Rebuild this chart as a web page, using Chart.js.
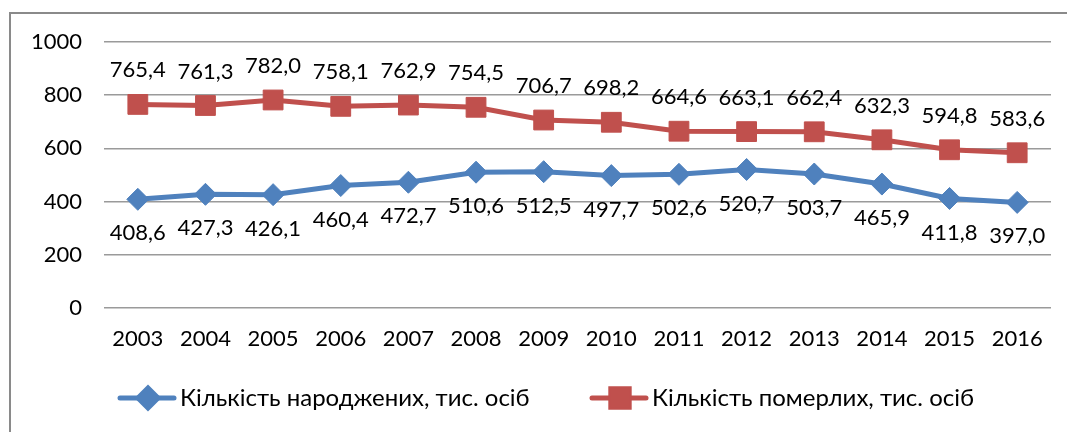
<!DOCTYPE html>
<html>
<head>
<meta charset="utf-8">
<script src="https://cdn.jsdelivr.net/npm/chart.js@4.4.0/dist/chart.umd.min.js"></script>
<style>
  html, body { margin: 0; padding: 0; background: #fff; }
  #popChart { display: block; }
</style>
</head>
<body>
<canvas id="popChart" width="1067" height="432"></canvas>
<script>
// years and values
var years = ['2003','2004','2005','2006','2007','2008','2009','2010','2011','2012','2013','2014','2015','2016'];
var births = [408.6, 427.3, 426.1, 460.4, 472.7, 510.6, 512.5, 497.7, 502.6, 520.7, 503.7, 465.9, 411.8, 397.0];
var deaths = [765.4, 761.3, 782.0, 758.1, 762.9, 754.5, 706.7, 698.2, 664.6, 663.1, 662.4, 632.3, 594.8, 583.6];
var yTicks = [0, 200, 400, 600, 800, 1000];
var birthsLabel = 'Кількість народжених, тис. осіб';
var deathsLabel = 'Кількість померлих, тис. осіб';

var FONT = 'Lato, "DejaVu Sans", sans-serif';
var BLUE = '#4F81BD';
var RED = '#C0504D';

function fmt(v) {
    return v.toFixed(1).replace('.', ',');
}

// value labels: red above the point, blue below
var valueLabels = {
    id: 'valueLabels',
    afterDatasetsDraw: function(chart) {
        var ctx = chart.ctx;
        ctx.save();
        ctx.font = '22px ' + FONT;
        ctx.fillStyle = '#000';
        ctx.textAlign = 'center';
        ctx.textBaseline = 'middle';
        chart.data.datasets.forEach(function(ds, i) {
            var meta = chart.getDatasetMeta(i);
            meta.data.forEach(function(pt, j) {
                var dy = i === 0 ? 34 : -34;
                ctx.fillText(fmt(ds.data[j]), pt.x, pt.y + dy);
            });
        });
        ctx.restore();
    }
};

// outer frame + legend with line and marker
var frameLegend = {
    id: 'frameLegend',
    afterDraw: function(chart) {
        var ctx = chart.ctx;
        ctx.save();
        ctx.strokeStyle = '#8a8a8a';
        ctx.lineWidth = 2;
        ctx.strokeRect(10, 13, 1100, 500);

        var items = [
            { x: 120, color: BLUE, shape: 'rectRot', r: 10, text: birthsLabel },
            { x: 592, color: RED, shape: 'rect', r: 13, text: deathsLabel }
        ];
        var y = 398;
        items.forEach(function(it) {
            ctx.strokeStyle = it.color;
            ctx.lineWidth = 5;
            ctx.lineCap = 'round';
            ctx.beginPath();
            ctx.moveTo(it.x, y);
            ctx.lineTo(it.x + 54, y);
            ctx.stroke();
            Chart.helpers.drawPoint(ctx, {
                pointStyle: it.shape, radius: it.r, borderWidth: 1, rotation: 0
            }, it.x + 28, y);
            ctx.fillStyle = it.color;
            ctx.fill();
            ctx.fillStyle = '#000';
            ctx.font = '24px ' + FONT;
            ctx.textAlign = 'left';
            ctx.textBaseline = 'middle';
            ctx.fillText(it.text, it.x + 60, y);
        });
        ctx.restore();
    }
};

var ctx = document.getElementById('popChart');
var popChart = new Chart(ctx, {
    type: 'line',
    data: {
        labels: years,
        datasets: [{
            label: birthsLabel,
            data: births,
            borderColor: BLUE,
            backgroundColor: BLUE,
            borderWidth: 5,
            pointStyle: 'rectRot',
            pointRadius: 11,
            pointHoverRadius: 11,
            pointBorderWidth: 1,
            tension: 0
        }, {
            label: deathsLabel,
            data: deaths,
            borderColor: RED,
            backgroundColor: RED,
            borderWidth: 5,
            pointStyle: 'rect',
            pointRadius: 14,
            pointHoverRadius: 14,
            pointBorderWidth: 1,
            tension: 0
        }]
    },
    options: {
        responsive: false,
        animation: false,
        devicePixelRatio: 1,
        layout: {
            padding: { left: 0, right: 16, top: 42, bottom: 74 }
        },
        plugins: {
            legend: { display: false },
            tooltip: { enabled: false }
        },
        scales: {
            x: {
                offset: true,
                grid: { display: false, drawTicks: false },
                border: { display: false },
                ticks: { color: '#000', font: { family: FONT, size: 22 }, padding: 18, maxRotation: 0, autoSkip: false },
                afterFit: function(scale) { scale.height = 50; }
            },
            y: {
                min: 0,
                max: 1000,
                afterBuildTicks: function(scale) {
                    scale.ticks = yTicks.map(function(v) { return { value: v }; });
                },
                grid: { color: '#9a9a9a', lineWidth: 1.5, drawTicks: false },
                border: { display: false },
                ticks: {
                    color: '#000', font: { family: FONT, size: 22 }, padding: 22,
                    callback: function(v) { return String(v); }
                },
                afterFit: function(scale) { scale.width = 104; }
            }
        }
    },
    plugins: [valueLabels, frameLegend]
});
</script>
</body>
</html>
